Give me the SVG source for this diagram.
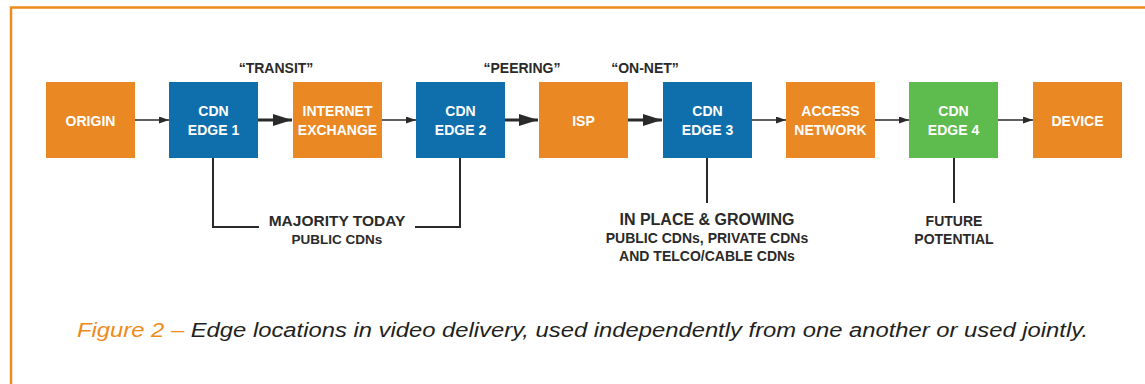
<svg xmlns="http://www.w3.org/2000/svg" width="1145" height="384" viewBox="0 0 1145 384">
<style>
.node text{font-family:"Liberation Sans",Arial,sans-serif;font-weight:bold;font-size:14px;fill:#fff;text-anchor:middle}
.o{fill:#EA8823}
.b{fill:#0F6FAD}
.g{fill:#5EBB4E}
.lbl{font-family:"Liberation Sans",Arial,sans-serif;font-weight:bold;fill:#2a2a2a;text-anchor:middle}
.thin{stroke:#2a2a2a;stroke-width:1.5;fill:none}
.thick{stroke:#2a2a2a;stroke-width:3;fill:none}
.br{stroke:#2a2a2a;stroke-width:2;fill:none}
</style>
<defs>
<marker id="ah" markerUnits="userSpaceOnUse" markerWidth="10" markerHeight="8" refX="10" refY="3.5" orient="auto"><path d="M0,0 L10,3.5 L0,7 z" fill="#2a2a2a"/></marker>
<marker id="ahb" markerUnits="userSpaceOnUse" markerWidth="20" markerHeight="13" refX="19" refY="6" orient="auto"><path d="M0,0 L19,6 L0,12 z" fill="#2a2a2a"/></marker>
</defs>
<rect width="1145" height="384" fill="#fff"/>
<path d="M11,400 L11,7.5 L1160,7.5" stroke="#EE8A1A" stroke-width="2.5" fill="none"/>

<g id="connectors">
<line class="thin" x1="135" y1="120" x2="169" y2="120" marker-end="url(#ah)"/>
<line class="thick" x1="258" y1="120" x2="292" y2="120" marker-end="url(#ahb)"/>
<line class="thin" x1="382" y1="120" x2="416" y2="120" marker-end="url(#ah)"/>
<line class="thick" x1="505" y1="120" x2="538" y2="120" marker-end="url(#ahb)"/>
<line class="thick" x1="628" y1="120" x2="662" y2="120" marker-end="url(#ahb)"/>
<line class="thin" x1="752" y1="120" x2="786" y2="120" marker-end="url(#ah)"/>
<line class="thin" x1="875" y1="120" x2="909" y2="120" marker-end="url(#ah)"/>
<line class="thin" x1="998" y1="120" x2="1033" y2="120" marker-end="url(#ah)"/>
<path class="br" d="M213,158 L213,227 L259,227"/>
<path class="br" d="M415,227 L460,227 L460,158"/>
<line class="br" x1="707" y1="158" x2="707" y2="203"/>
<line class="br" x1="954" y1="158" x2="954" y2="203"/>
</g>

<g id="origin" class="node"><rect class="o" x="46" y="82" width="89" height="76"/><text x="90.5" y="126">ORIGIN</text></g>
<g id="cdn-edge-1" class="node"><rect class="b" x="169" y="82" width="89" height="76"/><text x="213.5" y="116">CDN</text><text x="213.5" y="135">EDGE 1</text></g>
<g id="internet-exchange" class="node"><rect class="o" x="293" y="82" width="89" height="76"/><text x="337.5" y="116">INTERNET</text><text x="337.5" y="135">EXCHANGE</text></g>
<g id="cdn-edge-2" class="node"><rect class="b" x="416" y="82" width="89" height="76"/><text x="460.5" y="116">CDN</text><text x="460.5" y="135">EDGE 2</text></g>
<g id="isp" class="node"><rect class="o" x="539" y="82" width="89" height="76"/><text x="583.5" y="126">ISP</text></g>
<g id="cdn-edge-3" class="node"><rect class="b" x="663" y="82" width="89" height="76"/><text x="707.5" y="116">CDN</text><text x="707.5" y="135">EDGE 3</text></g>
<g id="access-network" class="node"><rect class="o" x="786" y="82" width="89" height="76"/><text x="830.5" y="116">ACCESS</text><text x="830.5" y="135">NETWORK</text></g>
<g id="cdn-edge-4" class="node"><rect class="g" x="909" y="82" width="89" height="76"/><text x="953.5" y="116">CDN</text><text x="953.5" y="135">EDGE 4</text></g>
<g id="device" class="node"><rect class="o" x="1033" y="82" width="89" height="76"/><text x="1077.5" y="126">DEVICE</text></g>

<g id="labels">
<text class="lbl" x="276" y="73" font-size="14">“TRANSIT”</text>
<text class="lbl" x="522" y="73" font-size="14">“PEERING”</text>
<text class="lbl" x="645" y="73" font-size="14">“ON-NET”</text>
<text class="lbl" x="337" y="226" font-size="15.5">MAJORITY TODAY</text>
<text class="lbl" x="337" y="244" font-size="13.5">PUBLIC CDNs</text>
<text class="lbl" x="707" y="225" font-size="16">IN PLACE &amp; GROWING</text>
<text class="lbl" x="707" y="243" font-size="14">PUBLIC CDNs, PRIVATE CDNs</text>
<text class="lbl" x="707" y="261" font-size="14">AND TELCO/CABLE CDNs</text>
<text class="lbl" x="954" y="226" font-size="14">FUTURE</text>
<text class="lbl" x="954" y="244" font-size="14">POTENTIAL</text>
</g>

<text id="caption" x="77" y="337" font-family="Liberation Sans,Arial,sans-serif" font-style="italic" font-size="19.5" fill="#231F20" textLength="1011" lengthAdjust="spacingAndGlyphs"><tspan fill="#EE8A1A">Figure 2 –</tspan> Edge locations in video delivery, used independently from one another or used jointly.</text>
</svg>
